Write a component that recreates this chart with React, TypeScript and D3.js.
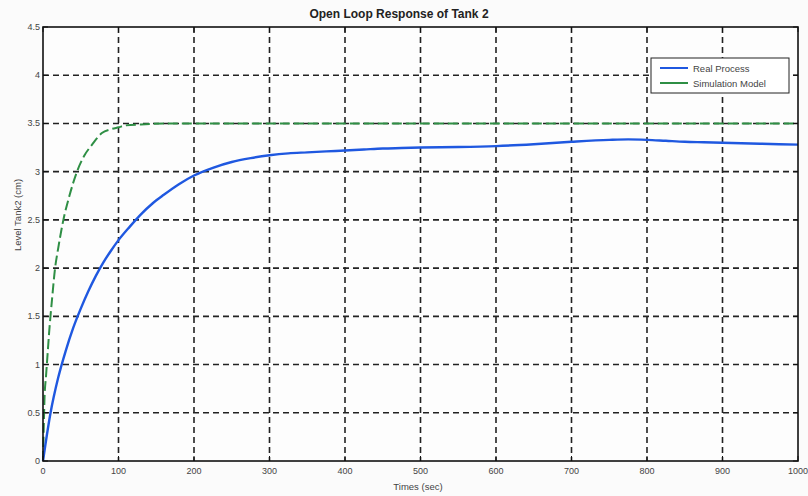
import React from "react";
import * as d3 from "d3";

// Measured tank level, real process (time in s, level in cm)
const realTime = [0, 10, 20, 30, 40, 50, 60, 70, 80, 90, 100, 115, 130, 145, 160, 180, 200, 225, 250, 275, 300, 325, 350, 375, 400, 425, 450, 475, 500, 550, 600, 650, 700, 750, 775, 800, 825, 850, 875, 900, 950, 1000];
const realLevel = [0, 0.5, 0.86, 1.14, 1.38, 1.58, 1.76, 1.92, 2.06, 2.18, 2.29, 2.43, 2.56, 2.67, 2.76, 2.87, 2.96, 3.04, 3.1, 3.14, 3.17, 3.19, 3.2, 3.21, 3.22, 3.23, 3.24, 3.245, 3.25, 3.255, 3.265, 3.285, 3.31, 3.33, 3.335, 3.33, 3.32, 3.31, 3.305, 3.3, 3.29, 3.28];

// Simulated model response
const simTime = [0, 1, 2, 4, 6, 8, 12, 16, 20, 27, 35, 45, 55, 65, 78, 90, 100, 110, 130, 160, 1000];
const simLevel = [0, 0.35, 0.65, 0.88, 1.1, 1.32, 1.68, 2.0, 2.2, 2.5, 2.75, 3.0, 3.17, 3.28, 3.4, 3.44, 3.46, 3.48, 3.49, 3.5, 3.5];

const xTicks = [0, 100, 200, 300, 400, 500, 600, 700, 800, 900, 1000];
const yTicks = [0, 0.5, 1, 1.5, 2, 2.5, 3, 3.5, 4, 4.5];
const seriesNames = ["Real Process", "Simulation Model"];

const W = 808;
const H = 496;
const left = 43;
const right = 798;
const top = 27;
const bottom = 461;

const BLUE = "#1f58e0";
const GREEN = "#2f8f45";
const FONT = "'Liberation Sans', Arial, sans-serif";

export default function App() {
  const x = d3.scaleLinear().domain([0, 1000]).range([left, right]);
  const y = d3.scaleLinear().domain([0, 4.5]).range([bottom, top]);

  const line = d3
    .line<[number, number]>()
    .x((d) => x(d[0]))
    .y((d) => y(d[1]))
    .curve(d3.curveMonotoneX);

  const realPts = realTime.map((t, i) => [t, realLevel[i]] as [number, number]);
  const simPts = simTime.map((t, i) => [t, simLevel[i]] as [number, number]);

  return (
    <svg
      width={W}
      height={H}
      style={{ position: "absolute", left: 0, top: 0, display: "block", background: "#fbfbfb" }}
    >
      <rect x={left} y={top} width={right - left} height={bottom - top} fill="#fdfdfd" />

      {/* grid */}
      {xTicks.slice(1, -1).map((t) => (
        <line key={"gx" + t} x1={x(t)} x2={x(t)} y1={top} y2={bottom} stroke="#222" strokeWidth={1.6} strokeDasharray="6,4" />
      ))}
      {yTicks.slice(1, -1).map((t) => (
        <line key={"gy" + t} x1={left} x2={right} y1={y(t)} y2={y(t)} stroke="#222" strokeWidth={1.6} strokeDasharray="6,4" />
      ))}

      {/* series */}
      <path d={line(simPts) || ""} fill="none" stroke={GREEN} strokeWidth={2} strokeDasharray="10,4" />
      <path d={line(realPts) || ""} fill="none" stroke={BLUE} strokeWidth={2.4} strokeLinejoin="round" />

      {/* axes box */}
      <rect x={left} y={top} width={right - left} height={bottom - top} fill="none" stroke="#111" strokeWidth={1.6} />
      {xTicks.map((t) => (
        <g key={"tx" + t}>
          <line x1={x(t)} x2={x(t)} y1={bottom} y2={bottom - 5} stroke="#111" />
          <line x1={x(t)} x2={x(t)} y1={top} y2={top + 5} stroke="#111" />
          <text x={x(t)} y={474} textAnchor="middle" fontSize={9} fontFamily={FONT} fill="#444">
            {t}
          </text>
        </g>
      ))}
      {yTicks.map((t) => (
        <g key={"ty" + t}>
          <line x1={left} x2={left + 5} y1={y(t)} y2={y(t)} stroke="#111" />
          <line x1={right} x2={right - 5} y1={y(t)} y2={y(t)} stroke="#111" />
          <text x={40} y={y(t) + 3} textAnchor="end" fontSize={9} fontFamily={FONT} fill="#444">
            {t}
          </text>
        </g>
      ))}

      {/* titles */}
      <text x={399} y={18} textAnchor="middle" fontSize={12} fontFamily={FONT} fill="#222" fontWeight={600}>
        Open Loop Response of Tank 2
      </text>
      <text x={418} y={490} textAnchor="middle" fontSize={9.5} fontFamily={FONT} fill="#444">
        Times (sec)
      </text>
      <text
        transform={`translate(21,215) rotate(-90)`}
        textAnchor="middle"
        fontSize={9.5}
        fontFamily={FONT}
        fill="#444"
      >
        Level Tank2 (cm)
      </text>

      {/* legend */}
      <rect x={651} y={58} width={138} height={35} fill="#fff" stroke="#222" strokeWidth={1} />
      <line x1={660} x2={688} y1={68} y2={68} stroke={BLUE} strokeWidth={2} />
      <line x1={660} x2={688} y1={83} y2={83} stroke={GREEN} strokeWidth={2} />
      <text x={693} y={71.5} fontSize={9.5} fontFamily={FONT} fill="#444">
        {seriesNames[0]}
      </text>
      <text x={693} y={86.5} fontSize={9.5} fontFamily={FONT} fill="#444">
        {seriesNames[1]}
      </text>
    </svg>
  );
}
